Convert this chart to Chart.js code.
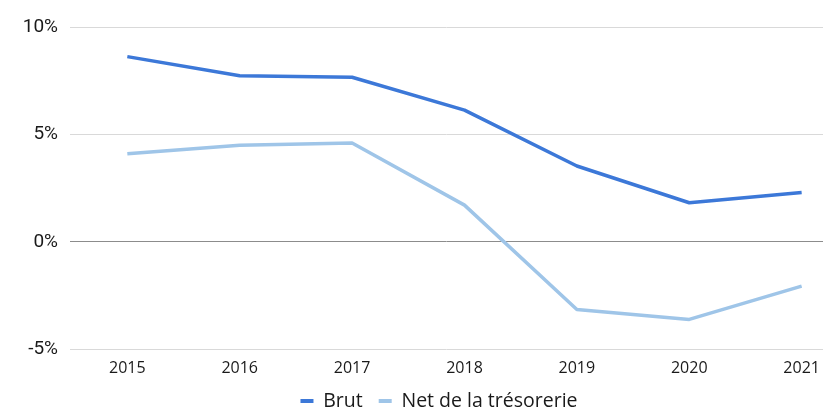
<!DOCTYPE html>
<html lang="fr">
<head>
    <meta charset="UTF-8">
    <title>Brut / Net de la trésorerie</title>
    <style>
        body {
            margin: 0;
            padding: 0;
            background-color: #fff;
        }
        #chart {
            display: block;
        }
    </style>
    <script src="https://cdn.jsdelivr.net/npm/chart.js"></script>
</head>
<body>
    <canvas id="chart" width="823" height="410"></canvas>

    <script>
        // Data
        const years = [2015, 2016, 2017, 2018, 2019, 2020, 2021];
        const brut = [8.62, 7.73, 7.66, 6.13, 3.53, 1.82, 2.30];
        const netTresorerie = [4.10, 4.50, 4.60, 1.71, -3.15, -3.61, -2.06];
        const yTicks = [-5, 0, 5, 10];

        const toPoints = (values) => values.map((v, i) => ({ x: years[i], y: v }));

        // legend sits a bit right of the canvas centre in the original
        const legendShift = {
            id: 'legendShift',
            afterLayout(chart) {
                chart.legend.left += 27.5;
                chart.legend.right += 27.5;
            }
        };

        const ctx = document.getElementById('chart').getContext('2d');

        new Chart(ctx, {
            type: 'line',
            data: {
                datasets: [{
                    label: 'Brut',
                    data: toPoints(brut),
                    borderColor: '#3c78d8',
                    backgroundColor: '#3c78d8',
                    borderWidth: 3.5,
                    pointRadius: 0,
                    borderJoinStyle: 'round',
                    fill: false,
                    tension: 0
                }, {
                    label: 'Net de la trésorerie',
                    data: toPoints(netTresorerie),
                    borderColor: '#9fc5e8',
                    backgroundColor: '#9fc5e8',
                    borderWidth: 3.5,
                    pointRadius: 0,
                    borderJoinStyle: 'round',
                    fill: false,
                    tension: 0
                }]
            },
            options: {
                responsive: false,
                animation: false,
                devicePixelRatio: 1,
                layout: {
                    padding: { left: 0, right: 0, top: 27, bottom: -10.75 }
                },
                scales: {
                    x: {
                        type: 'linear',
                        min: 2014.49,
                        max: 2021.19,
                        afterBuildTicks: (axis) => {
                            axis.ticks = years.map(v => ({ value: v }));
                        },
                        afterFit: (scale) => {
                            scale.height = 26;
                            scale.paddingLeft = 0;
                            scale.paddingRight = 0;
                        },
                        grid: { display: false, drawTicks: false },
                        border: { display: false },
                        ticks: {
                            padding: 10,
                            maxRotation: 0,
                            autoSkip: false,
                            color: '#1a1a1a',
                            font: { family: "'Open Sans'", size: 16 },
                            callback: (v) => String(v)
                        }
                    },
                    y: {
                        min: -5,
                        max: 10,
                        afterBuildTicks: (axis) => {
                            axis.ticks = yTicks.map(v => ({ value: v }));
                        },
                        afterFit: (scale) => {
                            scale.width = 70;
                        },
                        grid: {
                            drawTicks: false,
                            lineWidth: 1,
                            color: (c) => c.tick && c.tick.value === 0 ? '#8c8c8c' : '#d9d9d9'
                        },
                        border: { display: false },
                        ticks: {
                            padding: 12,
                            color: '#1a1a1a',
                            font: { family: 'Roboto', size: 19 },
                            callback: (v) => v + '%'
                        }
                    }
                },
                plugins: {
                    legend: {
                        position: 'bottom',
                        labels: {
                            boxWidth: 13,
                            boxHeight: 4,
                            padding: 16,
                            color: '#1a1a1a',
                            font: { family: "'Open Sans'", size: 19.5 },
                            generateLabels: (chart) =>
                                Chart.defaults.plugins.legend.labels.generateLabels(chart)
                                    .map(l => ({ ...l, lineWidth: 0 }))
                        }
                    },
                    tooltip: { enabled: false }
                }
            },
            plugins: [legendShift]
        });
    </script>
</body>
</html>
